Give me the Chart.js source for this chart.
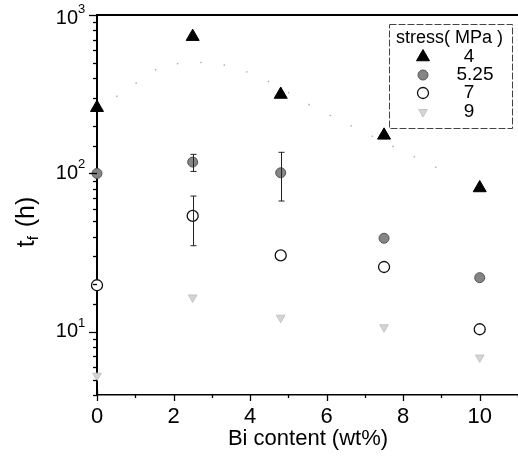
<!DOCTYPE html>
<html>
<head>
<meta charset="utf-8">
<title>t_f vs Bi content</title>
<script src="https://cdn.jsdelivr.net/npm/chart.js@4/dist/chart.umd.min.js"></script>
<style>
  html, body { margin: 0; padding: 0; background: #fff; }
  #wrap { width: 518px; height: 457px; }
</style>
</head>
<body>
<div id="wrap"><canvas id="chart" width="518" height="457"></canvas></div>
<script>
/* Rupture time t_f vs Bi content, four stress levels, log y axis */

const BI_CONTENT = [0, 2.5, 4.8, 7.5, 10];

const STRESS_LABELS = ['4', '5.25', '7', '9'];
const TF_4MPA    = [260, 730, 315, 174, 81];
const TF_525MPA  = [100, 118, 101, 39, 22];
const TF_7MPA    = [19.7, 54, 30.4, 25.7, 10.4];
const TF_9MPA    = [5.3, 16.5, 12.3, 10.7, 6.9];

// error bars (null = none drawn)
const ERR_525_LOW  = [null, 103, 67, null, null];
const ERR_525_HIGH = [null, 132, 136, null, null];
const ERR_7_LOW    = [null, 35, null, null, null];
const ERR_7_HIGH   = [null, 72, null, null, null];

// faint dotted guide curve through the 4 MPa data
const GUIDE_X = [0.5, 1.4, 1.8, 3.6, 5.9, 8.8, 9.2];
const GUIDE_Y = [305, 427, 487, 464, 245, 111, 100];

const X_MAJOR = [0, 2, 4, 6, 8, 10];
const Y_MAJOR = [10, 100, 1000];
const Y_EXP   = ['1', '2', '3'];

const FONT = '"Liberation Sans", Arial, Helvetica, sans-serif';

function pts(ys) {
  return BI_CONTENT.map((x, i) => ({ x, y: ys[i] }));
}

const STYLES = [
  { pointStyle: 'triangle', rotation: 0,   radius: 7.5, bg: '#000',    border: '#000',    bw: 1 },
  { pointStyle: 'circle',   rotation: 0,   radius: 5,   bg: '#858585', border: '#555',    bw: 1 },
  { pointStyle: 'circle',   rotation: 0,   radius: 5.5, bg: '#fff',    border: '#111',    bw: 1.3 },
  { pointStyle: 'triangle', rotation: 180, radius: 5,   bg: '#d4d4d4', border: '#c4c4c4', bw: 1 },
];

function scatterSet(label, ys, st) {
  return {
    type: 'scatter',
    label,
    data: pts(ys),
    pointStyle: st.pointStyle,
    rotation: st.rotation,
    pointRadius: st.radius,
    backgroundColor: st.bg,
    borderColor: st.border,
    borderWidth: st.bw,
    clip: false,
  };
}

function drawSymbol(ctx, st, x, y) {
  ctx.save();
  ctx.fillStyle = st.bg;
  ctx.strokeStyle = st.border;
  ctx.lineWidth = st.bw;
  ctx.beginPath();
  if (st.pointStyle === 'circle') {
    ctx.arc(x, y, st.radius, 0, Math.PI * 2);
  } else {
    const r = st.radius;
    const dir = st.rotation === 180 ? -1 : 1;
    ctx.moveTo(x, y - dir * r);
    ctx.lineTo(x + r * 0.866, y + dir * r * 0.5);
    ctx.lineTo(x - r * 0.866, y + dir * r * 0.5);
    ctx.closePath();
  }
  ctx.fill();
  ctx.stroke();
  ctx.restore();
}

const decor = {
  id: 'decor',
  afterDatasetsDraw(chart) {
    const { ctx, chartArea: a, scales: { x, y } } = chart;
    ctx.save();

    // top frame
    ctx.strokeStyle = '#000';
    ctx.lineWidth = 2;
    ctx.beginPath();
    ctx.moveTo(a.left - 1, a.top);
    ctx.lineTo(a.right, a.top);
    ctx.stroke();

    // y ticks (major / minor), outward
    ctx.lineWidth = 1.3;
    y.ticks.forEach(t => {
      const lg = Math.log10(t.value);
      const major = Math.abs(lg - Math.round(lg)) < 1e-9;
      const py = Math.round(y.getPixelForValue(t.value)) + 0.5;
      ctx.beginPath();
      ctx.moveTo(a.left - (major ? 8 : 4), py);
      ctx.lineTo(a.left, py);
      ctx.stroke();
    });

    // x ticks
    x.ticks.forEach(t => {
      const major = X_MAJOR.includes(t.value);
      const px = Math.round(x.getPixelForValue(t.value)) + 0.5;
      ctx.beginPath();
      ctx.moveTo(px, a.bottom - (t.value === 0 ? 5 : 0));
      ctx.lineTo(px, a.bottom + (major ? 6 : 3));
      ctx.stroke();
    });

    // y tick labels 10^n
    ctx.fillStyle = '#000';
    ctx.textBaseline = 'middle';
    Y_MAJOR.forEach((v, i) => {
      const py = y.getPixelForValue(v) + (i === Y_MAJOR.length - 1 ? 3 : 0);
      ctx.font = '20px ' + FONT;
      ctx.textAlign = 'right';
      ctx.fillText('10', 78, py);
      ctx.font = '13px ' + FONT;
      ctx.textAlign = 'left';
      ctx.fillText(Y_EXP[i], 78, py - 9);
    });

    // error bars
    ctx.strokeStyle = '#222';
    ctx.lineWidth = 1;
    [[ERR_525_LOW, ERR_525_HIGH], [ERR_7_LOW, ERR_7_HIGH]].forEach(([lo, hi]) => {
      BI_CONTENT.forEach((bx, i) => {
        if (lo[i] == null) return;
        const px = Math.round(x.getPixelForValue(bx)) + 0.5;
        const y1 = y.getPixelForValue(hi[i]);
        const y2 = y.getPixelForValue(lo[i]);
        ctx.beginPath();
        ctx.moveTo(px, y1); ctx.lineTo(px, y2);
        ctx.moveTo(px - 3, y1); ctx.lineTo(px + 3, y1);
        ctx.moveTo(px - 3, y2); ctx.lineTo(px + 3, y2);
        ctx.stroke();
      });
    });

    // legend
    ctx.strokeStyle = '#444';
    ctx.lineWidth = 1;
    ctx.setLineDash([7, 2]);
    ctx.strokeRect(389.5, 24.5, 123, 104);
    ctx.setLineDash([]);
    ctx.fillStyle = '#000';
    ctx.font = '18px ' + FONT;
    ctx.textAlign = 'left';
    ctx.textBaseline = 'middle';
    ctx.fillText('stress( MPa )', 396, 38);
    ctx.font = '19px ' + FONT;
    const rowY = [57, 75, 93, 112];
    STRESS_LABELS.forEach((lab, i) => {
      drawSymbol(ctx, STYLES[i], 423, rowY[i]);
      ctx.fillStyle = '#000';
      ctx.textAlign = 'center';
      ctx.fillText(lab, lab.length > 1 ? 475 : 469, rowY[i]);
    });

    // axis titles
    ctx.font = '22px ' + FONT;
    ctx.textAlign = 'center';
    ctx.textBaseline = 'middle';
    ctx.fillText('Bi content (wt%)', 308, 439);

    ctx.translate(27, 222);
    ctx.rotate(-Math.PI / 2);
    ctx.textAlign = 'left';
    ctx.font = '25px ' + FONT;
    const wT = ctx.measureText('t').width;
    const wRest = ctx.measureText(' (h)').width;
    ctx.font = '15px ' + FONT;
    const wF = ctx.measureText('f').width;
    const total = wT + wF + wRest + 2;
    let cx = -total / 2;
    ctx.font = '25px ' + FONT;
    ctx.fillText('t', cx, 0);
    cx += wT;
    ctx.font = '15px ' + FONT;
    ctx.fillText('f', cx, 7);
    cx += wF + 2;
    ctx.font = '25px ' + FONT;
    ctx.fillText(' (h)', cx, 0);

    ctx.restore();
  },
};

new Chart(document.getElementById('chart'), {
  data: {
    datasets: [
      {
        type: 'line',
        label: 'guide',
        data: GUIDE_X.map((gx, i) => ({ x: gx, y: GUIDE_Y[i] })),
        borderColor: '#b0b0b0',
        borderWidth: 1.5,
        borderDash: [1.5, 22],
        pointRadius: 0,
        tension: 0.4,
        fill: false,
      },
      scatterSet(STRESS_LABELS[0], TF_4MPA, STYLES[0]),
      scatterSet(STRESS_LABELS[1], TF_525MPA, STYLES[1]),
      scatterSet(STRESS_LABELS[2], TF_7MPA, STYLES[2]),
      scatterSet(STRESS_LABELS[3], TF_9MPA, STYLES[3]),
    ],
  },
  options: {
    responsive: false,
    animation: false,
    layout: { autoPadding: false, padding: { top: 15, left: 0, right: 0, bottom: 0 } },
    plugins: { legend: { display: false }, tooltip: { enabled: false } },
    scales: {
      x: {
        type: 'linear',
        min: 0,
        max: 11,
        grid: { display: false, drawTicks: false },
        border: { display: true, color: '#000', width: 1.5 },
        ticks: {
          stepSize: 1,
          autoSkip: false,
          maxRotation: 0,
          padding: 9,
          color: '#000',
          font: { size: 22, family: FONT },
          callback: v => (X_MAJOR.includes(v) ? String(v) : ''),
        },
        afterFit: s => { s.height = 62; s.paddingLeft = 0; s.paddingRight = 0; },
      },
      y: {
        type: 'logarithmic',
        min: 4,
        max: 1000,
        grid: { display: false, drawTicks: false },
        border: { display: true, color: '#000', width: 2 },
        ticks: { display: false },
        afterFit: s => { s.width = 97; },
      },
    },
  },
  plugins: [decor],
});
</script>
</body>
</html>
